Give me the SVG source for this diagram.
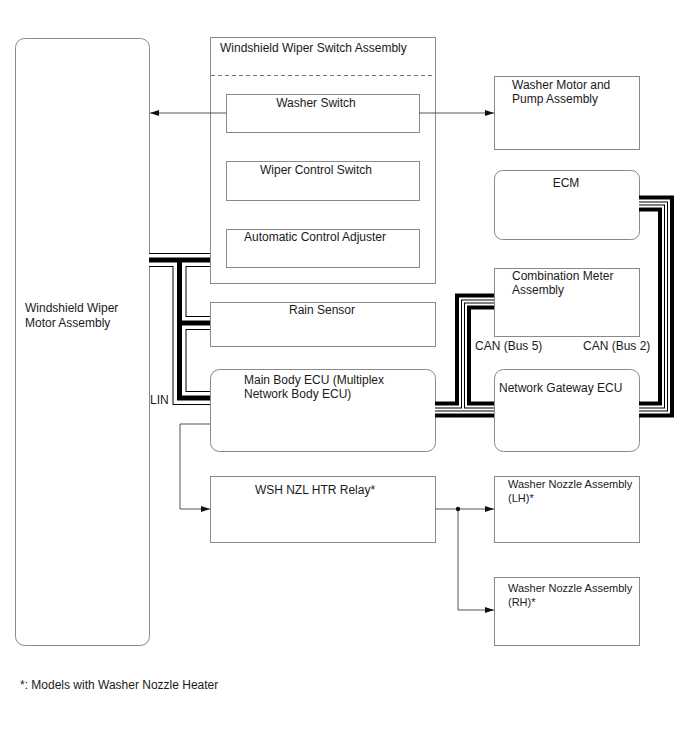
<svg xmlns="http://www.w3.org/2000/svg" width="688" height="755" viewBox="0 0 688 755">
<defs>
<style>
.box{fill:#fff;stroke:#8a8a8a;stroke-width:1}
.t{font-family:"Liberation Sans",Arial,sans-serif;font-size:12px;fill:#1a1a1a}
.s{font-size:11px}
.c{text-anchor:middle}
.w{fill:none;stroke:#555;stroke-width:1}
.b1{fill:none;stroke:#000;stroke-linejoin:miter}
.wh{fill:none;stroke:#fff;stroke-linejoin:miter}
</style>
<marker id="ah" markerWidth="10" markerHeight="8" refX="9" refY="4" orient="auto" markerUnits="userSpaceOnUse">
<path d="M0,1 L9,4 L0,7 Z" fill="#111"/>
</marker>
</defs>
<rect width="688" height="755" fill="#fff"/>

<g id="wiper-motor">
<rect class="box" x="15.5" y="38.5" width="134" height="607" rx="9"/>
<text class="t" x="25" y="312">Windshield Wiper</text>
<text class="t" x="25" y="327">Motor Assembly</text>
</g>

<g id="switch-assembly">
<rect class="box" x="210.5" y="37.5" width="225" height="246"/>
<text class="t" x="220" y="52">Windshield Wiper Switch Assembly</text>
<line x1="211" y1="75.5" x2="435" y2="75.5" stroke="#777" stroke-width="1" stroke-dasharray="4,3"/>
</g>

<g id="washer-switch">
<rect class="box" x="226.5" y="94.5" width="193" height="38"/>
<text class="t c" x="316" y="107">Washer Switch</text>
</g>

<g id="wiper-control-switch">
<rect class="box" x="226.5" y="161.5" width="193" height="39"/>
<text class="t c" x="316" y="174">Wiper Control Switch</text>
</g>

<g id="auto-control-adjuster">
<rect class="box" x="226.5" y="229.5" width="193" height="38"/>
<text class="t c" x="315" y="241">Automatic Control Adjuster</text>
</g>

<g id="rain-sensor">
<rect class="box" x="210.5" y="302.5" width="225" height="44"/>
<text class="t c" x="322" y="314">Rain Sensor</text>
</g>

<g id="main-body-ecu">
<rect class="box" x="210.5" y="369.5" width="225" height="82" rx="9"/>
<text class="t" x="244" y="384">Main Body ECU (Multiplex</text>
<text class="t" x="244" y="398">Network Body ECU)</text>
</g>

<g id="relay">
<rect class="box" x="210.5" y="476.5" width="225" height="66"/>
<text class="t c" x="315" y="494">WSH NZL HTR Relay*</text>
</g>

<g id="washer-motor">
<rect class="box" x="494.5" y="76.5" width="145" height="73"/>
<text class="t" x="512" y="89">Washer Motor and</text>
<text class="t" x="512" y="103">Pump Assembly</text>
</g>

<g id="ecm">
<rect class="box" x="494.5" y="170.5" width="145" height="69" rx="8"/>
<text class="t c" x="566" y="187">ECM</text>
</g>

<g id="combination-meter">
<rect class="box" x="494.5" y="268.5" width="145" height="68"/>
<text class="t" x="512" y="280">Combination Meter</text>
<text class="t" x="512" y="294">Assembly</text>
</g>

<g id="gateway">
<rect class="box" x="494.5" y="369.5" width="145" height="82" rx="9"/>
<text class="t" x="499" y="392">Network Gateway ECU</text>
</g>

<g id="nozzle-lh">
<rect class="box" x="494.5" y="476.5" width="145" height="66"/>
<text class="t s" x="508" y="488">Washer Nozzle Assembly</text>
<text class="t s" x="508" y="502">(LH)*</text>
</g>

<g id="nozzle-rh">
<rect class="box" x="494.5" y="577.5" width="145" height="68"/>
<text class="t s" x="508" y="592">Washer Nozzle Assembly</text>
<text class="t s" x="508" y="606">(RH)*</text>
</g>

<g id="connectors">
<g id="lin">
<path class="b1" stroke-width="14" d="M149 260 H210 M179.5 260 V398 H210 M179.5 323 H210"/>
<path class="wh" stroke-width="12" d="M149 260 H210 M179.5 260 V398 H210 M179.5 323 H210"/>
<path class="b1" stroke-width="5" d="M149 260 H210 M179.5 260 V398 H210 M179.5 323 H210"/>
</g>
<g id="can">
<path class="b1" stroke-width="16" d="M639 203.5 H666 V409.5 H639 M435 409.5 H494 M494 301.5 H463 V409.5"/>
<path class="wh" stroke-width="8" d="M639 203.5 H666 V409.5 H639 M435 409.5 H494 M494 301.5 H463 V409.5"/>
<path class="b1" stroke-width="4" d="M639 203.5 H666 V409.5 H639 M435 409.5 H494 M494 301.5 H463 V409.5"/>
<path class="wh" stroke-width="2" d="M639 203.5 H666 V409.5 H639 M435 409.5 H494 M494 301.5 H463 V409.5"/>
</g>
<path class="w" d="M226 113 H150" marker-end="url(#ah)"/>
<path class="w" d="M419 113 H494" marker-end="url(#ah)"/>
<path class="w" d="M210 424 H180 V509 H210" marker-end="url(#ah)"/>
<path class="w" d="M435 509 H494" marker-end="url(#ah)"/>
<path class="w" d="M458 509 V610 H494" marker-end="url(#ah)"/>
<circle cx="458" cy="509" r="2.2" fill="#111"/>
</g>

<g id="labels">
<text class="t" x="150" y="404">LIN</text>
<text class="t" x="475" y="350">CAN (Bus 5)</text>
<text class="t" x="583" y="350">CAN (Bus 2)</text>
<text class="t" x="20" y="689">*: Models with Washer Nozzle Heater</text>
</g>
</svg>
